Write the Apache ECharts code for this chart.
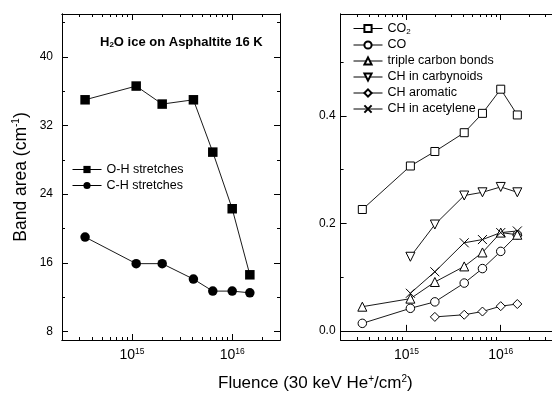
<!DOCTYPE html>
<html><head><meta charset="utf-8">
<script src="https://cdn.jsdelivr.net/npm/echarts@6/dist/echarts.min.js"></script>
<style>html,body{margin:0;padding:0;background:#fff}#c{width:552px;height:399px}</style>
</head><body><div id="c"></div>
<script>
const fluence = [3.4e14, 1.1e15, 2.0e15, 4.1e15, 6.4e15, 1.0e16, 1.5e16];
const ohStretch = [35.0, 36.6, 34.5, 35.0, 28.9, 22.3, 14.6];
const chStretch = [19.0, 15.9, 15.9, 14.1, 12.7, 12.7, 12.5];
const co2 = [0.226, 0.307, 0.334, 0.369, 0.405, 0.450, 0.402];
const co = [0.014, 0.042, 0.054, 0.089, 0.116, 0.148, 0.179];
const tripleC = [0.045, 0.060, 0.091, 0.120, 0.146, 0.183, 0.179];
const chCarbynoid = [null, 0.138, 0.198, 0.252, 0.258, 0.268, 0.258];
const chAromatic = [null, null, 0.026, 0.030, 0.036, 0.046, 0.050];
const chAcetylene = [null, 0.070, 0.110, 0.164, 0.170, 0.183, 0.186];

const xMajorTicks = [1e15, 1e16];
const xMinorTicks = [3e14,4e14,5e14,6e14,7e14,8e14,9e14,2e15,3e15,4e15,5e15,6e15,7e15,8e15,9e15,2e16,3e16];
const leftYLabels = [8, 16, 24, 32, 40];
const leftYMinor = [12, 20, 28, 36, 44];
const rightYLabels = [0.0, 0.2, 0.4];
const rightYMinor = [0.1, 0.3, 0.5];

const FONT = 'Liberation Sans';
const pairs = arr => fluence.map((f, i) => [f, arr[i]]).filter(d => d[1] != null);
const black = '#000';
const lineAx = {show: true, lineStyle: {color: black, width: 1}};

const grids = [
  {left: 62, top: 14, width: 218, height: 326, xmin: 2e14, xmax: 3e16},
  {left: 340.6, top: 14, width: 213, height: 326, xmin: 2e14, xmax: 3.5e16}
];

const xAxes = [], yAxes = [];
grids.forEach((g, gi) => {
  const lmin = Math.log10(g.xmin), lmax = Math.log10(g.xmax);
  xAxes.push({gridIndex: gi, type: 'log', logBase: 10, min: g.xmin, max: g.xmax, show: false});
  [['bottom', 6, xMajorTicks, true], ['bottom', 3, xMinorTicks, false], ['top', 6, xMajorTicks, false], ['top', 3, xMinorTicks, false]].forEach(([pos, len, ticks, lab]) => {
    xAxes.push({
      gridIndex: gi, type: 'value', position: pos, min: lmin, max: lmax,
      axisLine: lineAx, splitLine: {show: false},
      axisTick: {show: true, inside: true, length: len, lineStyle: {color: black, width: 1}, customValues: ticks.map(Math.log10)},
      axisLabel: lab ? {
        show: true, customValues: ticks.map(Math.log10), margin: 7,
        formatter: v => '{b|10}{sup|' + Math.round(v) + '}',
        color: black, fontFamily: FONT, fontSize: 14,
        rich: {b: {fontSize: 14, fontFamily: FONT, color: black},
               sup: {fontSize: 8.5, fontFamily: FONT, color: black, verticalAlign: 'top', padding: [0, 0, 8, 0]}}
      } : {show: false}
    });
  });
});

// left panel y axes
const ly = {min: 7, max: 45};
[['left', 6, leftYLabels, true], ['left', 3, leftYMinor, false], ['right', 6, leftYLabels, false], ['right', 3, leftYMinor, false]].forEach(([pos, len, ticks, lab], k) => {
  yAxes.push({
    gridIndex: 0, type: 'value', position: pos, min: ly.min, max: ly.max,
    axisLine: lineAx, splitLine: {show: false},
    axisTick: {show: true, inside: true, length: len, lineStyle: {color: black}, customValues: ticks},
    axisLabel: lab ? {show: true, customValues: ticks, margin: 9, color: black, fontFamily: FONT, fontSize: 12} : {show: false},
    name: k === 0 ? 'Band area (cm{sup|-1})' : '',
    nameLocation: 'middle', nameGap: 31, nameRotate: 90,
    nameTextStyle: {fontFamily: FONT, fontSize: 17.5, color: black,
      rich: {sup: {fontSize: 10, fontFamily: FONT, color: black, verticalAlign: 'top', padding: [0, 0, 10, 0]}}}
  });
});
// right panel y axes
const ry = {min: -0.017, max: 0.59};
[['left', 6, rightYLabels, true], ['left', 3, rightYMinor, false]].forEach(([pos, len, ticks, lab]) => {
  yAxes.push({
    gridIndex: 1, type: 'value', position: pos, min: ry.min, max: ry.max,
    axisLine: lineAx, splitLine: {show: false},
    axisTick: {show: true, inside: true, length: len, lineStyle: {color: black}, customValues: ticks},
    axisLabel: lab ? {show: true, customValues: ticks, margin: 5, color: black, fontFamily: FONT, fontSize: 12, formatter: v => v.toFixed(1)} : {show: false}
  });
});

function mkSeries(name, arr, xi, yi, symbol, size, filled, rotate) {
  return {
    name, type: 'line', xAxisIndex: xi, yAxisIndex: yi, data: pairs(arr),
    symbol, symbolSize: size, symbolRotate: rotate || 0, showAllSymbol: true,
    lineStyle: {color: black, width: 0.9},
    itemStyle: filled ? {color: black, borderColor: black, borderWidth: 0}
                      : {color: '#fff', borderColor: black, borderWidth: 1},
    emphasis: {disabled: true}, animation: false, z: 5
  };
}
const XPATH = 'path://M0,0L10,10M10,0L0,10';
const series = [
  mkSeries('O-H stretches', ohStretch, 0, 0, 'rect', 9.5, true),
  mkSeries('C-H stretches', chStretch, 0, 0, 'circle', 9.5, true),
  mkSeries('CO2', co2, 5, 4, 'rect', 8, false),
  mkSeries('CO', co, 5, 4, 'circle', 8.5, false),
  mkSeries('triple carbon bonds', tripleC, 5, 4, 'triangle', 9, false),
  mkSeries('CH in carbynoids', chCarbynoid, 5, 4, 'triangle', 9, false, 180),
  mkSeries('CH aromatic', chAromatic, 5, 4, 'diamond', 9, false),
  mkSeries('CH in acetylene', chAcetylene, 5, 4, XPATH, 9, false)
];

const legText = {fontFamily: FONT, fontSize: 12.5, color: black,
  rich: {sub: {fontFamily: FONT, fontSize: 8, color: black, verticalAlign: 'bottom', padding: [6, 0, 0, 0]}}};

const option = {
  animation: false,
  backgroundColor: '#fff',
  grid: grids.map(g => ({left: g.left, top: g.top, width: g.width, height: g.height})),
  xAxis: xAxes, yAxis: yAxes, series,
  title: [
    {text: 'H{sub|2}O ice on Asphaltite 16 K', left: 100, top: 35, padding: 0,
     textStyle: {fontFamily: FONT, fontSize: 13, fontWeight: 'bold', color: black,
       rich: {sub: {fontFamily: FONT, fontSize: 8, fontWeight: 'bold', color: black, verticalAlign: 'bottom', padding: [6, 0, 0, 0]}}}},
    {text: 'Fluence (30 keV He{sup|+}/cm{sup|2})', left: 218, top: 374, padding: 0,
     textStyle: {fontFamily: FONT, fontSize: 17, fontWeight: 'normal', color: black,
       rich: {sup: {fontFamily: FONT, fontSize: 10, fontWeight: 'normal', color: black, verticalAlign: 'top', padding: [0, 0, 9, 0]}}}}
  ],
  legend: [
    {data: ['O-H stretches', 'C-H stretches'], orient: 'vertical', left: 72, top: 163,
     itemWidth: 29, itemHeight: 9, itemGap: 3, padding: 0, textStyle: legText, selectedMode: false,
     lineStyle: {width: 1}},
    {data: ['CO2', 'CO', 'triple carbon bonds', 'CH in carbynoids', 'CH aromatic', 'CH in acetylene'],
     orient: 'vertical', left: 353, top: 22, itemWidth: 29, itemHeight: 9, itemGap: 3, padding: 0,
     textStyle: legText, selectedMode: false, lineStyle: {width: 1},
     formatter: n => n === 'CO2' ? 'CO{sub|2}' : n}
  ]
};
const chart = echarts.init(document.getElementById('c'), null, {renderer: 'canvas'});
chart.setOption(option);
</script></body></html>
